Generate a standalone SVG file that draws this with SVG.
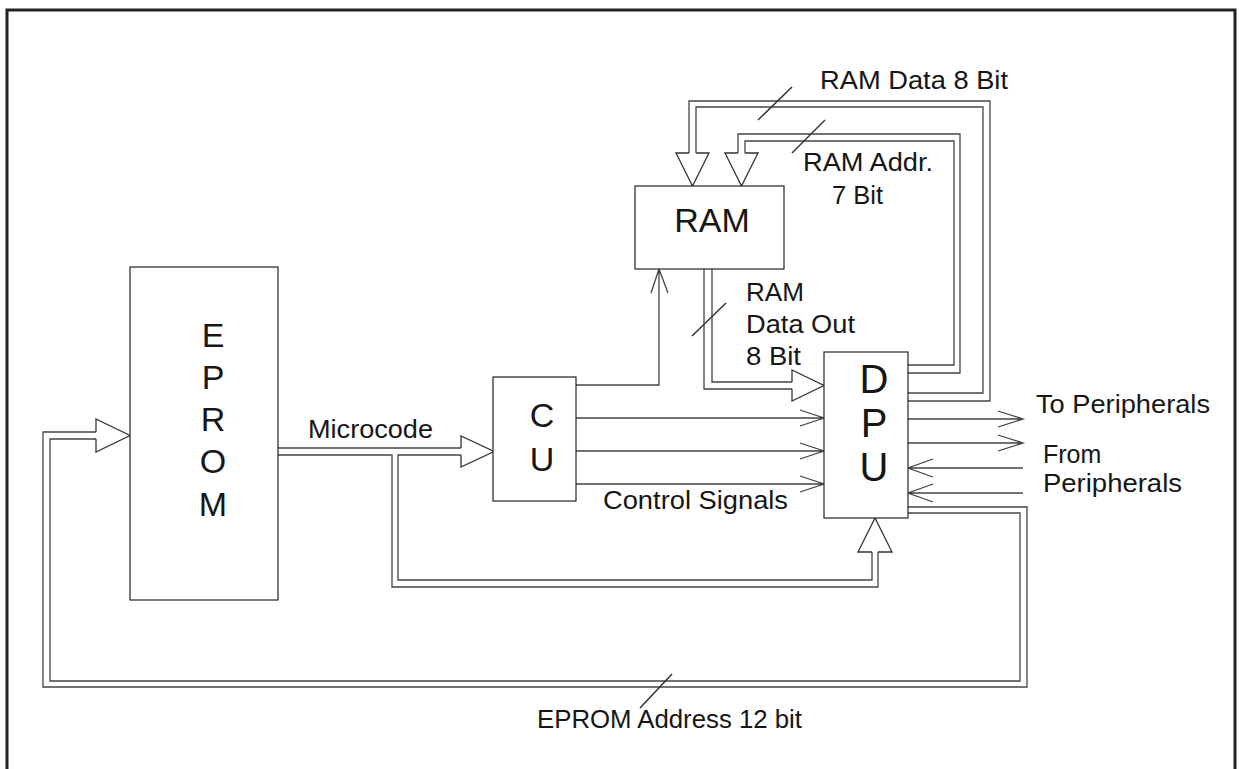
<svg xmlns="http://www.w3.org/2000/svg" width="1239" height="769" viewBox="0 0 1239 769">
<style>
.box{fill:#fff;stroke:#222;stroke-width:1.2}
.bus{fill:none;stroke:#444;stroke-width:1.3}
.head{fill:#fff;stroke:#333;stroke-width:1.3;stroke-linejoin:miter}
.sig{fill:none;stroke:#444;stroke-width:1.3}
.slash{fill:none;stroke:#333;stroke-width:1.5}
.t{font-family:"Liberation Sans",Arial,sans-serif;fill:#161616}
.lbl{font-size:25px}
.big{font-size:34px;text-anchor:middle}
</style>
<rect x="0" y="0" width="1239" height="769" fill="#fff"/>
<rect x="7" y="10" width="1228" height="800" fill="none" stroke="#222" stroke-width="3"/>

<g id="connectors">
  <!-- EPROM address bus -->
  <path class="bus" d="M908 507 H1027 V687 H43 V432 H96"/>
  <path class="bus" d="M908 513 H1020 V681 H50 V439 H96"/>
  <polyline class="head" points="96,432 96,419 130,435.5 96,452 96,439"/>
  <!-- Microcode bus -->
  <path class="bus" d="M278 448 H461"/>
  <path class="bus" d="M278 455 H392 V587 H878 V552"/>
  <path class="bus" d="M461 455 H398 V580 H872 V552"/>
  <polyline class="head" points="461,448 461,436 494,451.5 461,467 461,455"/>
  <polyline class="head" points="872,552 858,552 875,518 892,552 878,552"/>
  <!-- RAM data out -->
  <path class="bus" d="M704 269 V389 H792"/>
  <path class="bus" d="M712 269 V382 H792"/>
  <polyline class="head" points="792,382 792,370 824,385.5 792,401 792,389"/>
  <!-- RAM data bus -->
  <path class="bus" d="M908 401 H990 V101 H689 V153"/>
  <path class="bus" d="M908 393 H983 V107 H696 V153"/>
  <polyline class="head" points="689,153 676,153 692.5,186 709,153 696,153"/>
  <!-- RAM address bus -->
  <path class="bus" d="M908 373 H960 V134 H738 V153"/>
  <path class="bus" d="M908 365 H954 V141 H745 V153"/>
  <polyline class="head" points="738,153 725,153 741.5,186 758,153 745,153"/>
  <!-- control signals -->
  <path class="sig" d="M576 385 H659 V269 M651 293 L659 269 L668 293"/>
  <path class="sig" d="M576 418 H824 M800 410 L824 418 L800 426"/>
  <path class="sig" d="M576 451 H824 M800 443 L824 451 L800 459"/>
  <path class="sig" d="M576 484 H824 M800 476 L824 484 L800 492"/>
  <!-- peripherals -->
  <path class="sig" d="M908 419 H1023 M998 411 L1023 419 L998 427"/>
  <path class="sig" d="M908 443 H1023 M998 435 L1023 443 L998 451"/>
  <path class="sig" d="M1023 468 H908 M933 459 L908 468 L933 477"/>
  <path class="sig" d="M1023 493 H908 M933 484 L908 493 L933 502"/>
  <!-- bus width slashes -->
  <line class="slash" x1="758" y1="120" x2="792" y2="87"/>
  <line class="slash" x1="792" y1="153" x2="825" y2="120"/>
  <line class="slash" x1="692" y1="336" x2="726" y2="303"/>
  <line class="slash" x1="640" y1="708" x2="672" y2="674"/>
</g>

<g id="eprom">
  <rect class="box" x="130" y="267" width="148" height="333"/>
  <text class="t big" x="213" y="347">E</text>
  <text class="t big" x="213" y="389">P</text>
  <text class="t big" x="213" y="431">R</text>
  <text class="t big" x="213" y="473">O</text>
  <text class="t big" x="213" y="516">M</text>
</g>
<g id="ram">
  <rect class="box" x="635" y="186" width="149" height="83"/>
  <text class="t big" x="712" y="232">RAM</text>
</g>
<g id="cu">
  <rect class="box" x="493" y="377" width="83" height="124"/>
  <text class="t big" x="542" y="427">C</text>
  <text class="t big" x="542" y="471">U</text>
</g>
<g id="dpu">
  <rect class="box" x="824" y="352" width="84" height="166"/>
  <text class="t big" x="874" y="393" style="font-size:40px">D</text>
  <text class="t big" x="874" y="437" style="font-size:40px">P</text>
  <text class="t big" x="874" y="481" style="font-size:40px">U</text>
</g>

<g id="labels">
  <text class="t lbl" x="820" y="89" textLength="188" lengthAdjust="spacingAndGlyphs">RAM Data 8 Bit</text>
  <text class="t lbl" x="803" y="171" textLength="130" lengthAdjust="spacingAndGlyphs">RAM Addr.</text>
  <text class="t lbl" x="832" y="204" textLength="51" lengthAdjust="spacingAndGlyphs">7 Bit</text>
  <text class="t lbl" x="746" y="301" textLength="58" lengthAdjust="spacingAndGlyphs">RAM</text>
  <text class="t lbl" x="746" y="333" textLength="109" lengthAdjust="spacingAndGlyphs">Data Out</text>
  <text class="t lbl" x="746" y="365" textLength="55" lengthAdjust="spacingAndGlyphs">8 Bit</text>
  <text class="t lbl" x="308" y="438" textLength="125" lengthAdjust="spacingAndGlyphs">Microcode</text>
  <text class="t lbl" x="603" y="509" textLength="185" lengthAdjust="spacingAndGlyphs">Control Signals</text>
  <text class="t lbl" x="1036" y="413" textLength="174" lengthAdjust="spacingAndGlyphs">To Peripherals</text>
  <text class="t lbl" x="1043" y="463">From</text>
  <text class="t lbl" x="1043" y="492" textLength="139" lengthAdjust="spacingAndGlyphs">Peripherals</text>
  <text class="t lbl" x="537" y="728" textLength="265" lengthAdjust="spacingAndGlyphs">EPROM Address 12 bit</text>
</g>
</svg>
